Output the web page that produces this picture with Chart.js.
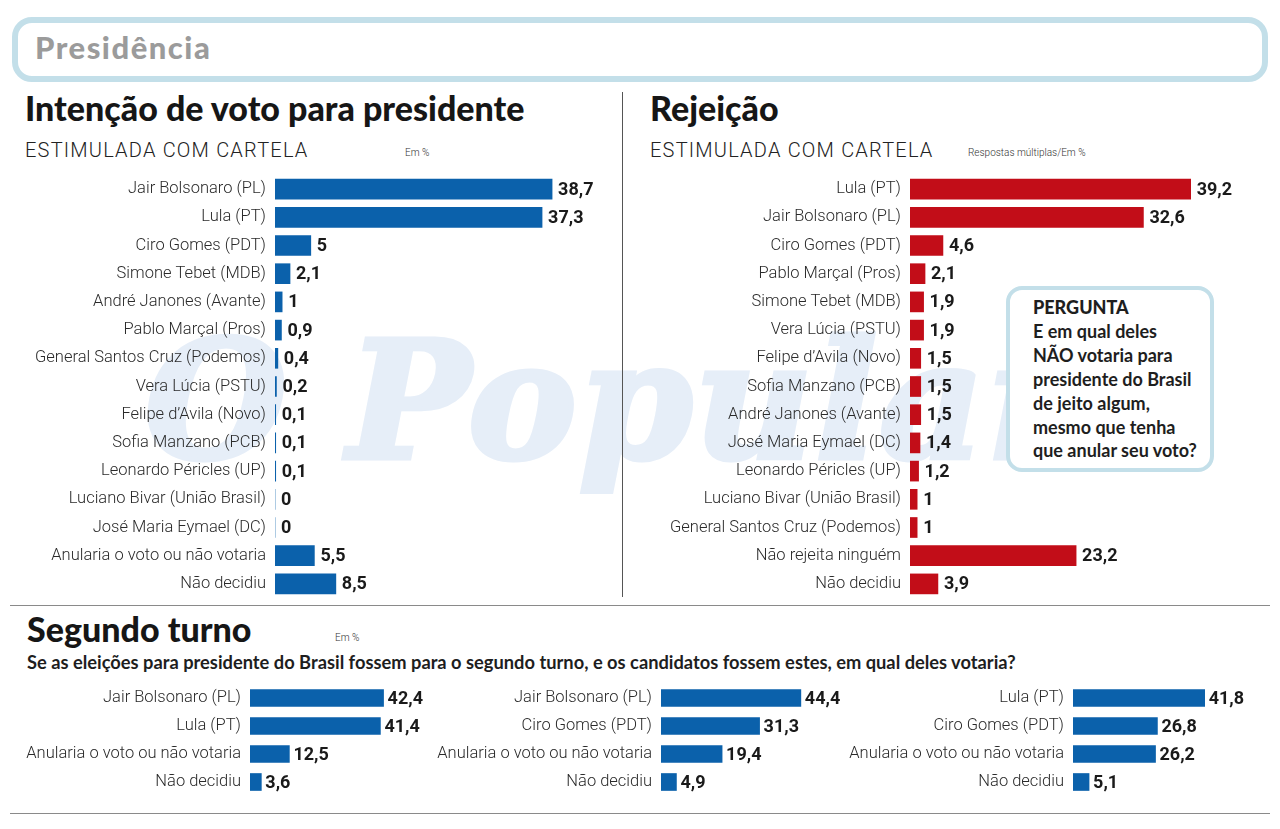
<!DOCTYPE html>
<html><head><meta charset="utf-8">
<script src="https://cdn.jsdelivr.net/npm/chart.js@4.4.1/dist/chart.umd.min.js"></script>
<style>
html,body{margin:0;padding:0;background:#fff;width:1280px;height:829px;overflow:hidden;position:relative;font-family:Lato,"Noto Sans",sans-serif;}
.abs{position:absolute;white-space:nowrap;}
canvas{position:absolute;}
#hdr{left:12px;top:17px;width:1244px;height:53px;border:6px solid #c3dfe9;border-radius:20px;}
#hdrT{left:35px;top:29px;font-size:31px;line-height:36px;font-weight:900;color:#9b9b9b;letter-spacing:1.5px;}
.title{font-size:34px;line-height:40px;font-weight:900;color:#161616;}
.sub{font-family:Roboto;font-weight:300;font-size:20px;line-height:22px;color:#222;letter-spacing:1.2px;}
.small{font-family:Roboto;font-weight:300;font-size:10px;line-height:12px;color:#333;}
#wm{left:145px;top:306px;font-family:"DejaVu Serif";font-weight:700;font-style:italic;font-size:163px;line-height:190px;color:#e6eef8;-webkit-text-stroke:5px #e6eef8;letter-spacing:2px;}
#box{left:1006px;top:286px;width:200px;height:178px;border:4px solid #c3dfe9;border-radius:16px;background:#fff;}
#boxT{left:1033px;top:296px;font-size:18px;line-height:23.9px;font-weight:700;color:#1e1e1e;}
#boxT b{font-weight:900;}
#q{left:27px;top:651px;font-size:18.3px;line-height:22px;font-weight:700;color:#1e1e1e;}
.hl{height:0;border-top:1.5px solid #8a8a8a;}
</style></head>
<body>
<div id="wm" class="abs">O Popular</div>
<div id="hdr" class="abs"></div>
<div id="hdrT" class="abs">Presidência</div>
<div class="abs title" style="left:25px;top:88px;">Intenção de voto para presidente</div>
<div class="abs sub" style="left:25px;top:139px;">ESTIMULADA COM CARTELA</div>
<div class="abs small" style="left:405px;top:147px;">Em %</div>
<div class="abs title" style="left:650px;top:88px;">Rejeição</div>
<div class="abs sub" style="left:650px;top:139px;">ESTIMULADA COM CARTELA</div>
<div class="abs small" style="left:968px;top:147px;">Respostas múltiplas/Em %</div>
<div class="abs" style="left:622px;top:92px;width:0;height:505px;border-left:1px solid #555;"></div>
<div class="abs hl" style="left:10px;top:605px;width:1260px;"></div>
<div class="abs title" style="left:27px;top:609px;">Segundo turno</div>
<div class="abs small" style="left:335px;top:632px;">Em %</div>
<div id="q" class="abs">Se as eleições para presidente do Brasil fossem para o segundo turno, e os candidatos fossem estes, em qual deles votaria?</div>
<div class="abs hl" style="left:10px;top:813px;width:1260px;"></div>

<canvas id="cL" width="620" height="423" style="left:0px;top:175px;"></canvas>
<canvas id="cR" width="650" height="423" style="left:630px;top:175px;"></canvas>
<canvas id="cB1" width="470" height="112" style="left:0px;top:684px;"></canvas>
<canvas id="cB2" width="440" height="112" style="left:420px;top:684px;"></canvas>
<canvas id="cB3" width="450" height="112" style="left:830px;top:684px;"></canvas>

<div id="box" class="abs"></div>
<div id="boxT" class="abs"><b>PERGUNTA</b><br>E em qual deles<br>NÃO votaria para<br>presidente do Brasil<br>de jeito algum,<br>mesmo que tenha<br>que anular seu voto?</div>

<script>
// ---- data ----
const votoCats = ['Jair Bolsonaro (PL)','Lula (PT)','Ciro Gomes (PDT)','Simone Tebet (MDB)','André Janones (Avante)','Pablo Marçal (Pros)','General Santos Cruz (Podemos)','Vera Lúcia (PSTU)','Felipe d’Avila (Novo)','Sofia Manzano (PCB)','Leonardo Péricles (UP)','Luciano Bivar (União Brasil)','José Maria Eymael (DC)','Anularia o voto ou não votaria','Não decidiu'];
const votoVals = [38.7,37.3,5,2.1,1,0.9,0.4,0.2,0.1,0.1,0.1,0,0,5.5,8.5];

const rejCats = ['Lula (PT)','Jair Bolsonaro (PL)','Ciro Gomes (PDT)','Pablo Marçal (Pros)','Simone Tebet (MDB)','Vera Lúcia (PSTU)','Felipe d’Avila (Novo)','Sofia Manzano (PCB)','André Janones (Avante)','José Maria Eymael (DC)','Leonardo Péricles (UP)','Luciano Bivar (União Brasil)','General Santos Cruz (Podemos)','Não rejeita ninguém','Não decidiu'];
const rejVals = [39.2,32.6,4.6,2.1,1.9,1.9,1.5,1.5,1.5,1.4,1.2,1,1,23.2,3.9];

const t2aCats = ['Jair Bolsonaro (PL)','Lula (PT)','Anularia o voto ou não votaria','Não decidiu'];
const t2aVals = [42.4,41.4,12.5,3.6];
const t2bCats = ['Jair Bolsonaro (PL)','Ciro Gomes (PDT)','Anularia o voto ou não votaria','Não decidiu'];
const t2bVals = [44.4,31.3,19.4,4.9];
const t2cCats = ['Lula (PT)','Ciro Gomes (PDT)','Anularia o voto ou não votaria','Não decidiu'];
const t2cVals = [41.8,26.8,26.2,5.1];

// ---- styles ----
const BLUE = '#0b61ab';
const RED = '#c20d18';

function valueLabels(offset){
  return {
    id:'valueLabels',
    afterDatasetsDraw(chart){
      const ctx = chart.ctx;
      const meta = chart.getDatasetMeta(0);
      const ds = chart.data.datasets[0];
      ctx.save();
      ctx.font = '700 18px Roboto';
      ctx.fillStyle = '#1a1a1a';
      ctx.textBaseline = 'middle';
      ctx.textAlign = 'left';
      meta.data.forEach((el,i)=>{
        const v = ds.data[i];
        ctx.fillText(String(v).replace('.',','), el.x + offset, el.y + 1);
      });
      ctx.restore();
    }
  };
}

function makeChart(id, cats, vals, color, axisW, pxPerUnit, barH, offset){
  const cv = document.getElementById(id);
  const areaW = cv.width - axisW;
  new Chart(cv, {
    type:'bar',
    data:{labels:cats, datasets:[{data:vals, backgroundColor:color, barThickness:barH, borderWidth:0}]},
    options:{
      indexAxis:'y', responsive:false, animation:false, devicePixelRatio:1,
      layout:{padding:0},
      plugins:{legend:{display:false}, tooltip:{enabled:false}},
      scales:{
        x:{display:false, min:0, max:areaW/pxPerUnit},
        y:{
          grid:{display:false, drawTicks:false}, border:{display:false},
          ticks:{autoSkip:false, padding:9, color:'#2a2a2a', font:{family:'Roboto', weight:'300', size:16.5}},
          afterFit(s){ s.width = axisW; s.paddingTop = 0; s.paddingBottom = 0; }
        }
      }
    },
    plugins:[valueLabels(offset)]
  });
}

makeChart('cL', votoCats, votoVals, BLUE, 275, 7.16, 20, 6);
makeChart('cR', rejCats, rejVals, RED, 280, 7.16, 20, 6);
makeChart('cB1', t2aCats, t2aVals, BLUE, 250, 3.15, 17, 4);
makeChart('cB2', t2bCats, t2bVals, BLUE, 241, 3.15, 17, 4);
makeChart('cB3', t2cCats, t2cVals, BLUE, 243, 3.15, 17, 4);
</script>
</body></html>
